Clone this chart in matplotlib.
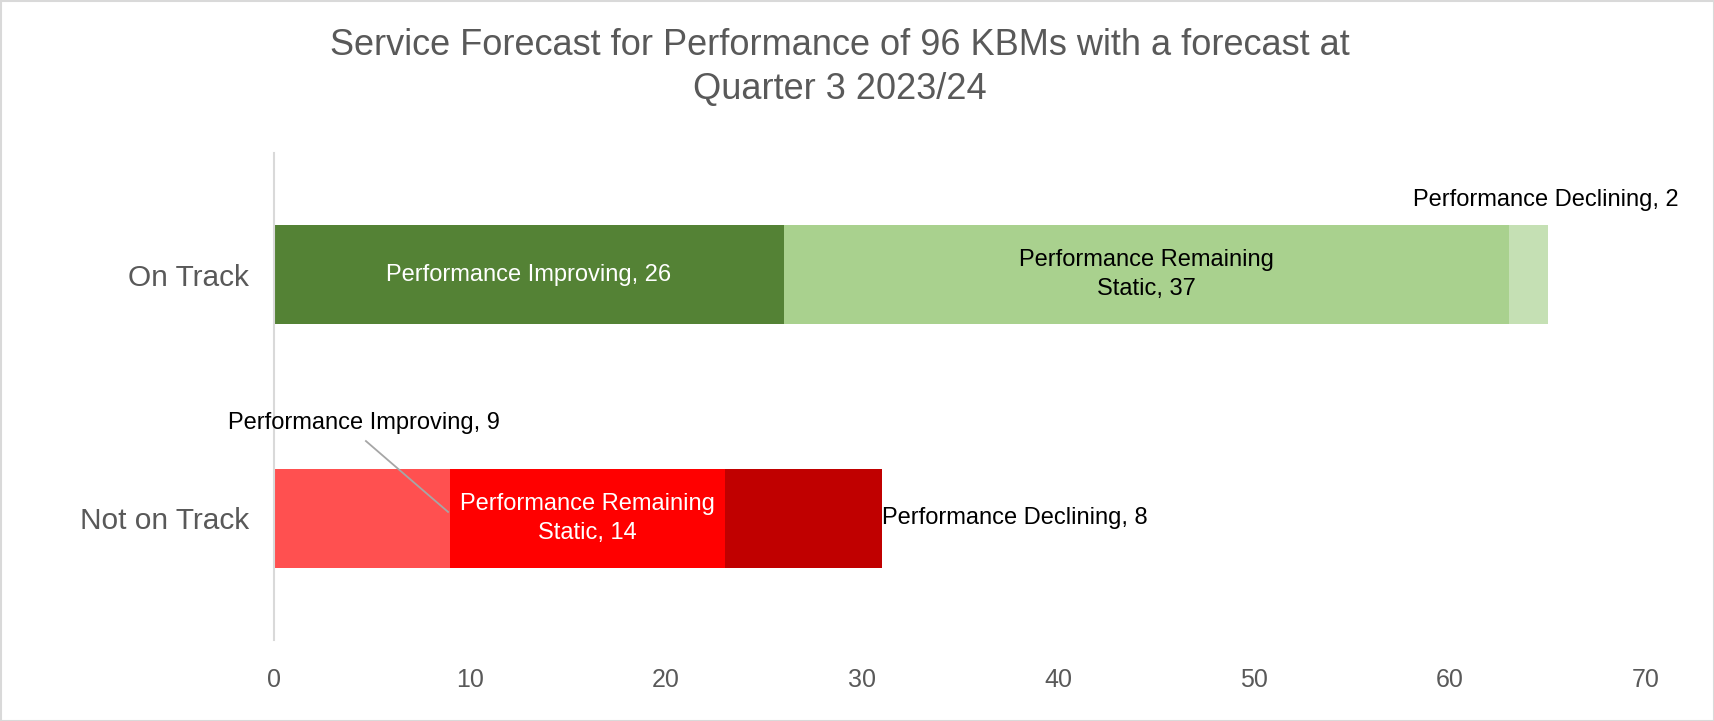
import matplotlib
matplotlib.use("Agg")
import matplotlib.pyplot as plt
from matplotlib.patches import Rectangle

plt.rcParams['font.family'] = ['Liberation Sans', 'DejaVu Sans']

categories = ["Not on Track", "On Track"]
series_names = ["Performance Improving", "Performance Remaining Static", "Performance Declining"]
on_track = [26, 37, 2]
not_on_track = [9, 14, 8]
on_colors = ["#548235", "#A9D18E", "#C5E0B4"]
not_colors = ["#FF5050", "#FF0000", "#C00000"]
xticks = [0, 10, 20, 30, 40, 50, 60, 70]
title = "Service Forecast for Performance of 96 KBMs with a forecast at\nQuarter 3 2023/24"

fig = plt.figure(figsize=(17.15, 7.21), dpi=100)
ax = fig.add_axes([274/1715, 81/721, 1372/1715, 487/721])

bar_h = 0.405
rows = {1: (on_track, on_colors), 0: (not_on_track, not_colors)}
for y, (vals, cols) in rows.items():
    left = 0
    for v, c in zip(vals, cols):
        ax.barh(y, v, left=left, height=bar_h, color=c, edgecolor='none')
        left += v

fs = 17
ls = 1.42
# On Track labels
ax.text(on_track[0] / 2, 1, f"Performance Improving, {on_track[0]}", ha='center', va='center',
        color='white', fontsize=fs)
ax.text(on_track[0] + on_track[1] / 2, 1, f"Performance Remaining\nStatic, {on_track[1]}",
        ha='center', va='center', color='black', fontsize=fs, linespacing=ls)
ax.text(sum(on_track) - 0.1, 1.307, f"Performance Declining, {on_track[2]}",
        ha='center', va='center', color='black', fontsize=fs)
# Not on Track labels
ax.text(4.6, 0.39, f"Performance Improving, {not_on_track[0]}", ha='center', va='center',
        color='black', fontsize=fs)
ax.plot([4.69, 8.88], [0.317, 0.026], color='#A6A6A6', lw=1.3)
ax.text(not_on_track[0] + not_on_track[1] / 2, 0, f"Performance Remaining\nStatic, {not_on_track[1]}",
        ha='center', va='center', color='white', fontsize=fs, linespacing=ls)
ax.text(sum(not_on_track), 0, f"Performance Declining, {not_on_track[2]}",
        ha='left', va='center', color='black', fontsize=fs)

ax.set_xlim(0, 70)
ax.set_ylim(-0.5, 1.5)
ax.set_yticks([0, 1])
ax.set_yticklabels(categories, fontsize=21.5, color='#595959')
ax.set_xticks(xticks)
ax.set_xticklabels([str(t) for t in xticks], fontsize=18, color='#595959')
ax.tick_params(axis='both', length=0)
ax.tick_params(axis='y', pad=18)
ax.tick_params(axis='x', pad=20)
for s in ['top', 'right', 'bottom']:
    ax.spines[s].set_visible(False)
ax.spines['left'].set_color('#D9D9D9')
ax.spines['left'].set_linewidth(1.5)

fig.text(840/1715, 1 - 67.5/721, title, ha='center', va='center', fontsize=26,
         color='#595959', linespacing=1.3)

fig.patches.append(Rectangle((0.5/1715, 0.5/721), 1 - 1.5/1715, 1 - 1.5/721, transform=fig.transFigure,
                             fill=False, edgecolor='#D9D9D9', lw=1.5))

fig.savefig("out.png", dpi=100)
